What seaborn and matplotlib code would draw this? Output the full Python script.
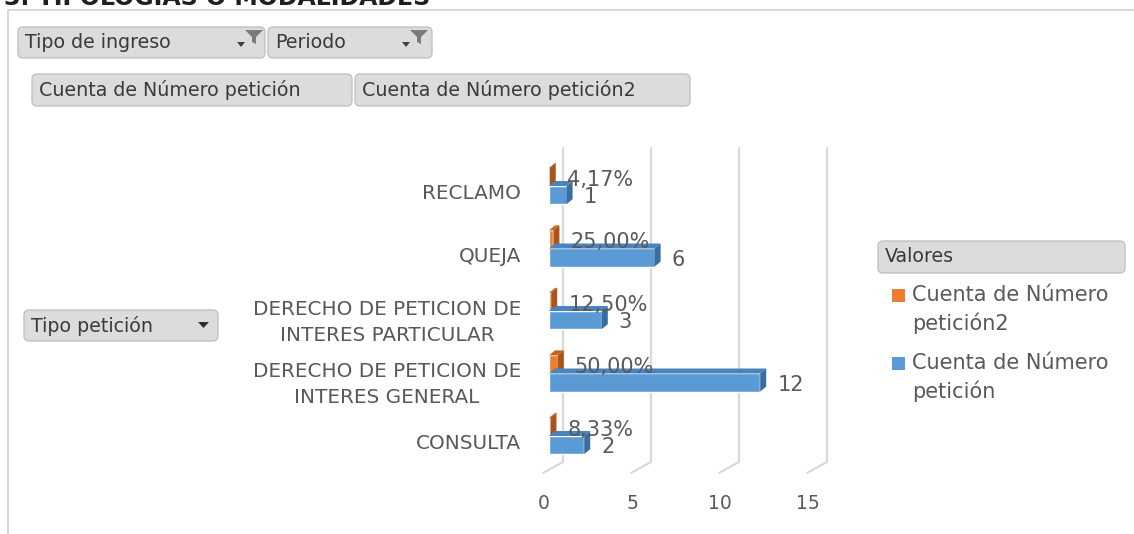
import numpy as np
import pandas as pd
import matplotlib
matplotlib.use("Agg")
import matplotlib.pyplot as plt
from matplotlib.patches import FancyBboxPatch, Polygon, Rectangle
from matplotlib.lines import Line2D
from matplotlib import transforms
import seaborn as sns

# Datos
tipos = ["RECLAMO", "QUEJA", "DERECHO DE PETICION DE\nINTERES PARTICULAR",
         "DERECHO DE PETICION DE\nINTERES GENERAL", "CONSULTA"]
cuenta = [1, 6, 3, 12, 2]
cuenta_pct = [0.0417, 0.25, 0.125, 0.50, 0.0833]
series = ["Cuenta de Número petición2", "Cuenta de Número petición"]
ticks_x = [0, 5, 10, 15]

colores = {series[0]: "#ED7D31", series[1]: "#5B9BD5"}
lado = {series[0]: "#A9541C", series[1]: "#3B6E9C"}
tapa = {series[0]: "#C8641F", series[1]: "#4A84BC"}

df = pd.DataFrame({
    "Tipo": tipos * 2,
    "valor": cuenta_pct + cuenta,
    "serie": [series[0]] * len(tipos) + [series[1]] * len(tipos),
})

W, H = 1134, 534
def fx(px):
    return px / W
def fy(py):
    return 1 - py / H

sns.set_style("white")
plt.rcParams["font.family"] = ["DejaVu Sans"]
gris = "#595959"

fig = plt.figure(figsize=(W / 100, H / 100), dpi=100)
fig.patch.set_facecolor("white")

# area de barras (en pixeles de la imagen)
left, right, top, bottom = 549, 813, 148, 462
ax = fig.add_axes([fx(left), fy(bottom), (right - left) / W, (bottom - top) / H])
sns.barplot(data=df, y="Tipo", x="valor", hue="serie", hue_order=series,
            palette=colores, orient="h", width=0.58, saturation=1,
            legend=False, ax=ax, zorder=3)
ax.set_xlim(0, 15)
ax.set_ylim(4.416, -0.608)
ux = (right - left) / 15.0
uy = (bottom - top) / (4.416 + 0.608)

# caras 3D de las barras
dx, dy = 6 / ux, 5 / uy
for cont, s in zip(ax.containers, series):
    for p in cont:
        x0, w = p.get_x(), p.get_width()
        y0, h = p.get_y(), p.get_height()
        yt, yb = min(y0, y0 + h), max(y0, y0 + h)
        x1 = x0 + w
        ax.add_patch(Polygon([(x0, yt), (x0 + dx, yt - dy), (x1 + dx, yt - dy), (x1, yt)],
                             closed=True, facecolor=tapa[s], edgecolor="none", zorder=3))
        ax.add_patch(Polygon([(x1, yt), (x1 + dx, yt - dy), (x1 + dx, yb - dy), (x1, yb)],
                             closed=True, facecolor=lado[s], edgecolor="none", zorder=3))

# etiquetas de datos
for cont, s in zip(ax.containers, series):
    for p, v in zip(cont, df[df["serie"] == s]["valor"]):
        yc = p.get_y() + p.get_height() / 2
        if s == series[0]:
            txt = f"{v * 100:.2f}%".replace(".", ",")
            off = -3
        else:
            txt = f"{int(v)}"
            off = -2
        ax.annotate(txt, xy=(p.get_x() + p.get_width(), yc), xytext=(17 * 0.72, off * 0.72),
                    textcoords="offset points", va="center", ha="left",
                    fontsize=15, color=gris, zorder=5, annotation_clip=False)

# lineas de division (pared del fondo)
gx, gy0 = 14 / ux, 11 / uy
for v in ticks_x:
    ax.plot([v + gx, v + gx], [-0.608, 4.416], color="#d9d9d9", lw=1.6, zorder=1, clip_on=False)
    ax.plot([v + gx, v - 6 / ux], [4.416, 4.416 + gy0], color="#d9d9d9", lw=1.6, zorder=1, clip_on=False)

for sp in ax.spines.values():
    sp.set_visible(False)
ax.set_xlabel("")
ax.set_ylabel("")
ax.set_xticks(ticks_x)
ax.set_xticklabels([str(t) for t in ticks_x])
ax.tick_params(axis="x", length=0, pad=23, labelsize=13.5, labelcolor=gris)
ax.tick_params(axis="y", length=0, pad=20, labelsize=14.4, labelcolor=gris)
for lab in ax.get_xticklabels():
    lab.set_transform(lab.get_transform() + transforms.ScaledTranslation(-5 / 100, 0, fig.dpi_scale_trans))
for lab in ax.get_yticklabels():
    lab.set_multialignment("center")
    lab.set_linespacing(1.45)
    lab.set_transform(lab.get_transform() + transforms.ScaledTranslation(0, -6 / 100, fig.dpi_scale_trans))

# botones de la tabla dinamica
def boton(x0, y0, x1, y1, texto, size=13.7):
    fig.patches.append(FancyBboxPatch(
        (fx(x0), fy(y1)), (x1 - x0) / W, (y1 - y0) / H,
        boxstyle="round,pad=0,rounding_size=0.0045", mutation_aspect=W / H,
        transform=fig.transFigure, facecolor="#dcdcdc", edgecolor="#c2c2c2", lw=1))
    fig.text(fx(x0 + 7), fy((y0 + y1) / 2), texto, fontsize=size, color="#3a3a3a",
             va="center", ha="left")

def embudo(cx, t):
    pts = [(cx - 9, t), (cx + 9, t), (cx + 2, t + 7), (cx + 2, t + 14), (cx - 2, t + 12), (cx - 2, t + 7)]
    fig.patches.append(Polygon([(fx(a), fy(b)) for a, b in pts], closed=True,
                               transform=fig.transFigure, facecolor="#7a7a7a", edgecolor="none"))
    flecha = [(cx - 17, t + 12), (cx - 9, t + 12), (cx - 13, t + 17)]
    fig.patches.append(Polygon([(fx(a), fy(b)) for a, b in flecha], closed=True,
                               transform=fig.transFigure, facecolor="#404040", edgecolor="none"))

boton(18, 27, 265, 58, "Tipo de ingreso")
embudo(254, 30)
boton(268, 27, 432, 58, "Periodo")
embudo(419, 30)
boton(32, 74, 352, 106, series[1])
boton(355, 74, 690, 106, series[0])
boton(24, 310, 218, 341, "Tipo petición")
fig.patches.append(Polygon([(fx(a), fy(b)) for a, b in [(198, 322), (209, 322), (203.5, 328)]],
                           closed=True, transform=fig.transFigure, facecolor="#303030", edgecolor="none"))
boton(878, 241, 1125, 273, "Valores")

# leyenda
for s, yy in zip(series, [295, 363]):
    fig.patches.append(Rectangle((fx(892), fy(yy + 7)), 13 / W, 13 / H,
                                 transform=fig.transFigure, facecolor=colores[s], edgecolor="none"))
    partes = s.split(" ")
    etiqueta = " ".join(partes[:3]) + "\n" + partes[3]
    fig.text(fx(912), fy(yy - 10), etiqueta, fontsize=15, color=gris, va="top", ha="left",
             linespacing=1.45)

# marco y titulo cortado
fig.lines.append(Line2D([fx(8), fx(8)], [fy(10), fy(534)], transform=fig.transFigure, color="#d9d9d9", lw=1.5))
fig.lines.append(Line2D([fx(8), fx(1134)], [fy(10), fy(10)], transform=fig.transFigure, color="#d9d9d9", lw=1.5))
fig.text(fx(4), fy(5), "3. TIPOLOGIAS O MODALIDADES", fontsize=17, fontweight="bold",
         color="#1f1f1f", va="baseline", ha="left")

fig.savefig("out.png", dpi=100)
